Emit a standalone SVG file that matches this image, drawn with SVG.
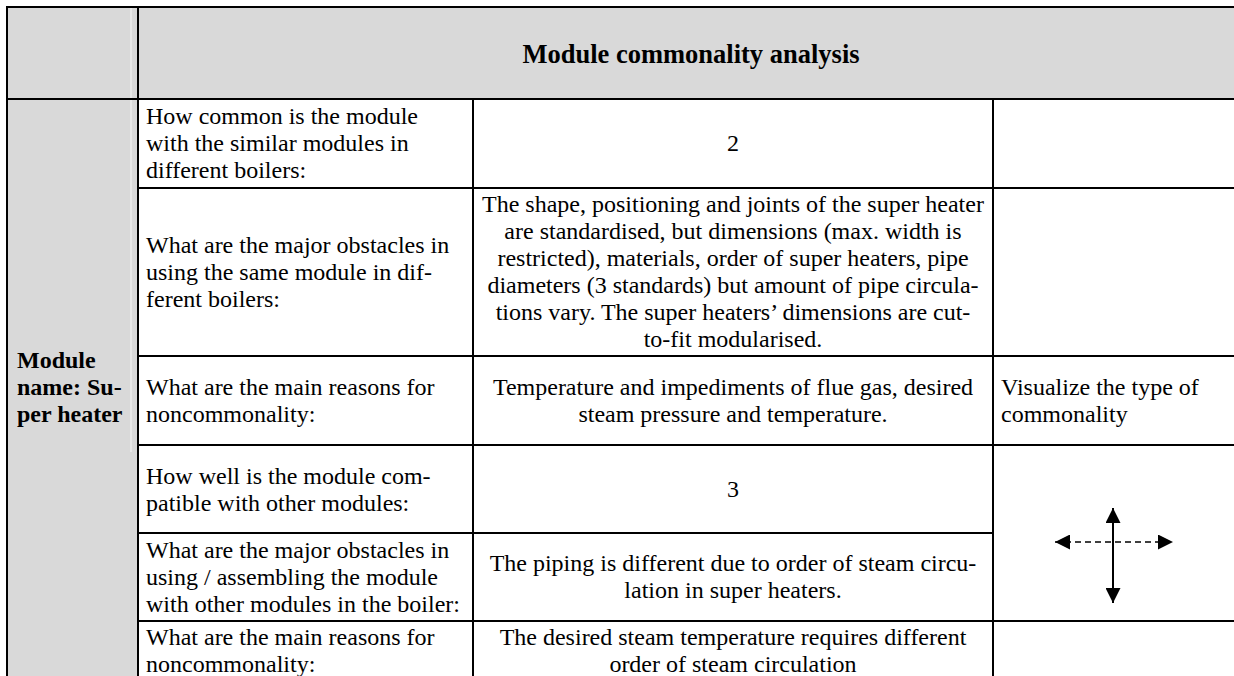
<svg xmlns="http://www.w3.org/2000/svg" width="1234" height="676" viewBox="0 0 1234 676">
<style>
  text { font-family: "Liberation Serif", "Times New Roman", serif; font-size: 24px; fill: #000; }
  .b { font-weight: bold; }
  .title { font-weight: bold; font-size: 26.5px; }
  .c { text-anchor: middle; }
  .ln { stroke: #000; stroke-width: 2; fill: none; }
  .gray { fill: #d9d9d9; }
</style>
<defs>
  <marker id="ah" viewBox="0 0 15 15" refX="15" refY="7.5" markerWidth="15" markerHeight="15" markerUnits="userSpaceOnUse" orient="auto-start-reverse">
    <path d="M0,0 L15,7.5 L0,15 Z" fill="#000"/>
  </marker>
</defs>
<rect width="1234" height="676" fill="#fff"/>

<!-- backgrounds -->
<rect class="gray" x="7" y="7" width="1227" height="92"/>
<rect class="gray" x="7" y="99" width="131" height="577"/>
<line x1="131" y1="8" x2="131" y2="452" stroke="#e8e8e8" stroke-width="2"/>

<g id="grid">
  <line class="ln" x1="6" y1="7" x2="1234" y2="7"/>
  <line class="ln" x1="7" y1="6" x2="7" y2="676"/>
  <line class="ln" x1="138" y1="7" x2="138" y2="676"/>
  <line class="ln" x1="7" y1="99" x2="1234" y2="99"/>
  <line class="ln" x1="473" y1="99" x2="473" y2="676"/>
  <line class="ln" x1="993" y1="99" x2="993" y2="676"/>
  <line class="ln" x1="138" y1="188" x2="1234" y2="188"/>
  <line class="ln" x1="138" y1="356" x2="1234" y2="356"/>
  <line class="ln" x1="138" y1="445" x2="1234" y2="445"/>
  <line class="ln" x1="138" y1="533" x2="993" y2="533"/>
  <line class="ln" x1="138" y1="621" x2="1234" y2="621"/>
</g>

<g id="header">
  <text class="title c" x="691" y="63">Module commonality analysis</text>
</g>

<g id="module-name">
  <text class="b" x="17" y="368">Module</text>
  <text class="b" x="17" y="395">name: Su-</text>
  <text class="b" x="17" y="422">per heater</text>
</g>

<g id="row1">
  <text x="146" y="124">How common is the module</text>
  <text x="146" y="151">with the similar modules in</text>
  <text x="146" y="178">different boilers:</text>
  <text class="c" x="733" y="151">2</text>
</g>

<g id="row2">
  <text x="146" y="253">What are the major obstacles in</text>
  <text x="146" y="280">using the same module in dif-</text>
  <text x="146" y="307">ferent boilers:</text>
  <text class="c" x="733" y="212">The shape, positioning and joints of the super heater</text>
  <text class="c" x="733" y="239">are standardised, but dimensions (max. width is</text>
  <text class="c" x="733" y="266">restricted), materials, order of super heaters, pipe</text>
  <text class="c" x="733" y="293">diameters (3 standards) but amount of pipe circula-</text>
  <text class="c" x="733" y="320">tions vary. The super heaters’ dimensions are cut-</text>
  <text class="c" x="733" y="347">to-fit modularised.</text>
</g>

<g id="row3">
  <text x="146" y="395">What are the main reasons for</text>
  <text x="146" y="422">noncommonality:</text>
  <text class="c" x="733" y="395">Temperature and impediments of flue gas, desired</text>
  <text class="c" x="733" y="422">steam pressure and temperature.</text>
  <text x="1001" y="395">Visualize the type of</text>
  <text x="1001" y="422">commonality</text>
</g>

<g id="row4">
  <text x="146" y="484">How well is the module com-</text>
  <text x="146" y="511">patible with other modules:</text>
  <text class="c" x="733" y="497">3</text>
</g>

<g id="row5">
  <text x="146" y="558">What are the major obstacles in</text>
  <text x="146" y="585">using / assembling the module</text>
  <text x="146" y="612">with other modules in the boiler:</text>
  <text class="c" x="733" y="571">The piping is different due to order of steam circu-</text>
  <text class="c" x="733" y="598">lation in super heaters.</text>
</g>

<g id="row6">
  <text x="146" y="645">What are the main reasons for</text>
  <text x="146" y="672">noncommonality:</text>
  <text class="c" x="733" y="645">The desired steam temperature requires different</text>
  <text class="c" x="733" y="672">order of steam circulation</text>
</g>

<g id="connectors">
  <line x1="1113" y1="508" x2="1113" y2="603" stroke="#000" stroke-width="2" marker-start="url(#ah)" marker-end="url(#ah)"/>
  <line x1="1055" y1="542" x2="1173" y2="542" stroke="#000" stroke-width="1.7" stroke-dasharray="6 4" marker-start="url(#ah)" marker-end="url(#ah)"/>
</g>
</svg>
